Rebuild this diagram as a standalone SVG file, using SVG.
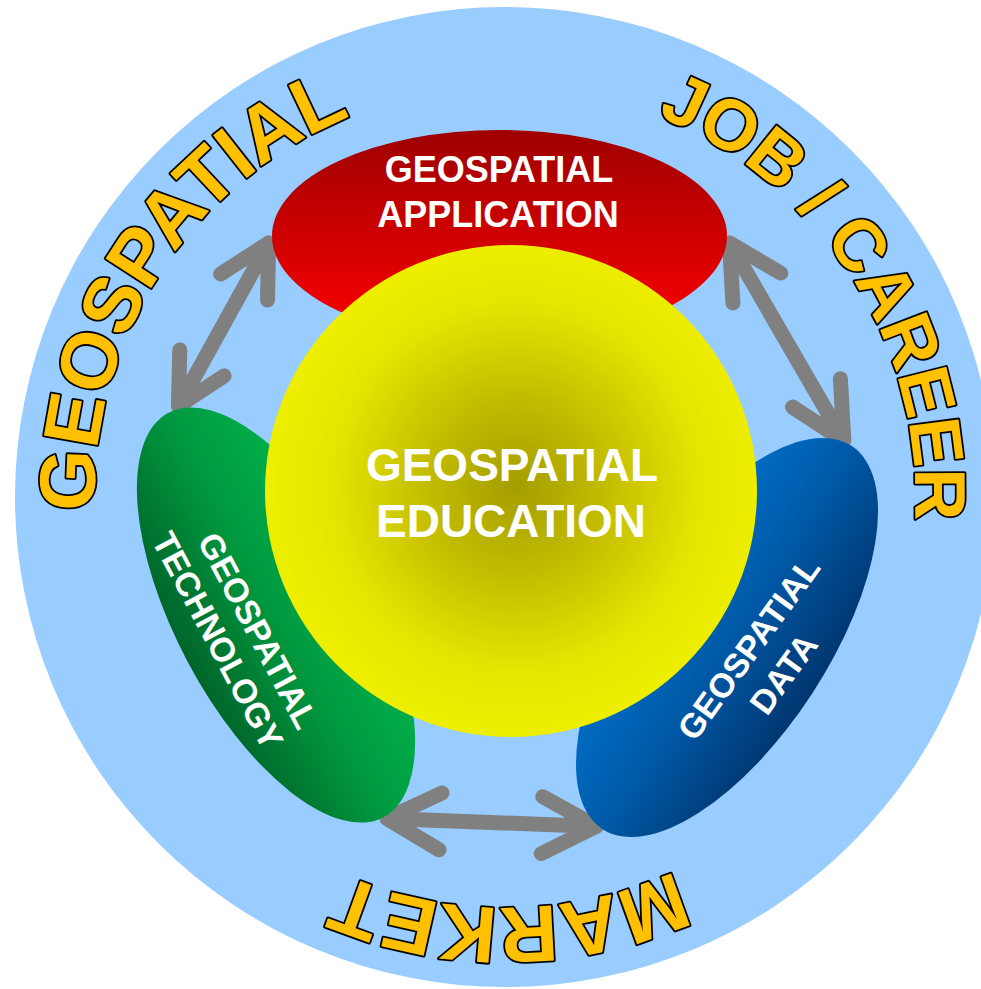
<svg xmlns="http://www.w3.org/2000/svg" width="981" height="989" viewBox="0 0 981 989">
<defs>
<style>
.outer{font-family:"Liberation Sans",Arial,sans-serif;font-weight:bold;fill:#FFC000;stroke:#000;stroke-width:3.6;stroke-linejoin:round;paint-order:stroke}
.lbl{font-family:"Liberation Sans",Arial,sans-serif;font-weight:bold;fill:#fff;text-anchor:middle}
.arrow{fill:none;stroke:#808080;stroke-width:15;stroke-linecap:round;stroke-linejoin:round}
</style>
<path id="ring" d="M149.93,702 A410,410 0 1 1 860.07,292 A410,410 0 1 1 149.93,702"/>
<linearGradient id="gRed" x1="0" y1="0" x2="0" y2="1">
<stop offset="0" stop-color="#9e0000"/>
<stop offset="1" stop-color="#ff0000"/>
</linearGradient>
<linearGradient id="gGreen" x1="0" y1="0" x2="0" y2="1">
<stop offset="0" stop-color="#00b44e"/>
<stop offset="0.5" stop-color="#00993f"/>
<stop offset="1" stop-color="#00652a"/>
</linearGradient>
<linearGradient id="gBlue" x1="0" y1="0" x2="0" y2="1">
<stop offset="0" stop-color="#0072cc"/>
<stop offset="0.5" stop-color="#005aa8"/>
<stop offset="1" stop-color="#003670"/>
</linearGradient>
<radialGradient id="gYellow" cx="0.51" cy="0.49" r="0.5">
<stop offset="0" stop-color="#a49d00"/>
<stop offset="0.4" stop-color="#c6c000"/>
<stop offset="0.75" stop-color="#e6e500"/>
<stop offset="1" stop-color="#eeee00"/>
</radialGradient>
</defs>

<g id="background">
<circle cx="505" cy="497" r="490" fill="#99CCFF"/>
</g>

<g id="outer-labels">
<text class="outer" font-size="79"><textPath href="#ring" startOffset="450.8" text-anchor="middle">GEOSPATIAL</textPath></text>
<text class="outer" font-size="72"><textPath href="#ring" startOffset="1270.9" text-anchor="middle">JOB / CAREER</textPath></text>
<text class="outer" font-size="80"><textPath href="#ring" startOffset="2143.2" text-anchor="middle">MARKET</textPath></text>
</g>

<g id="connectors">
<path class="arrow" d="M178.4,406 L268.6,243 M220.7,274 L268.6,243 L267.5,300 M179.8,350 L178.4,406 L224,375.9"/>
<path class="arrow" d="M729.5,243 L843.8,440.6 M780.7,273.1 L729.5,243 L732.9,303 M840.4,378.7 L843.8,440.6 L792.6,407.1"/>
<path class="arrow" d="M387,818.6 L596.3,826.4 M442,793 L387,818.6 L439,849.7 M542.8,796.7 L596.3,826.4 L541.3,853.6"/>
</g>

<g id="application">
<ellipse cx="499.5" cy="236" rx="227.5" ry="106" fill="url(#gRed)"/>
<text class="lbl" font-size="36" x="499" y="182">GEOSPATIAL</text>
<text class="lbl" font-size="36" x="498" y="227">APPLICATION</text>
</g>

<g id="technology">
<g transform="translate(276,615) rotate(62)">
<ellipse cx="0" cy="0" rx="229" ry="100" fill="url(#gGreen)"/>
</g>
<g transform="translate(238,635.5) rotate(62)">
<text class="lbl" font-size="34" x="5" y="-8">GEOSPATIAL</text>
<text class="lbl" font-size="34" x="-5" y="32">TECHNOLOGY</text>
</g>
</g>

<g id="data">
<g transform="translate(727,637.5) rotate(-57)">
<ellipse cx="0" cy="0" rx="228.5" ry="102" fill="url(#gBlue)"/>
</g>
<g transform="translate(766,661) rotate(-54)">
<text class="lbl" font-size="34" x="0" y="-9.6">GEOSPATIAL</text>
<text class="lbl" font-size="34" x="0" y="33.6">DATA</text>
</g>
</g>

<g id="education">
<circle cx="511" cy="491" r="246" fill="url(#gYellow)"/>
<text class="lbl" font-size="46" x="512" y="481">GEOSPATIAL</text>
<text class="lbl" font-size="46" x="511" y="537">EDUCATION</text>
</g>
</svg>
